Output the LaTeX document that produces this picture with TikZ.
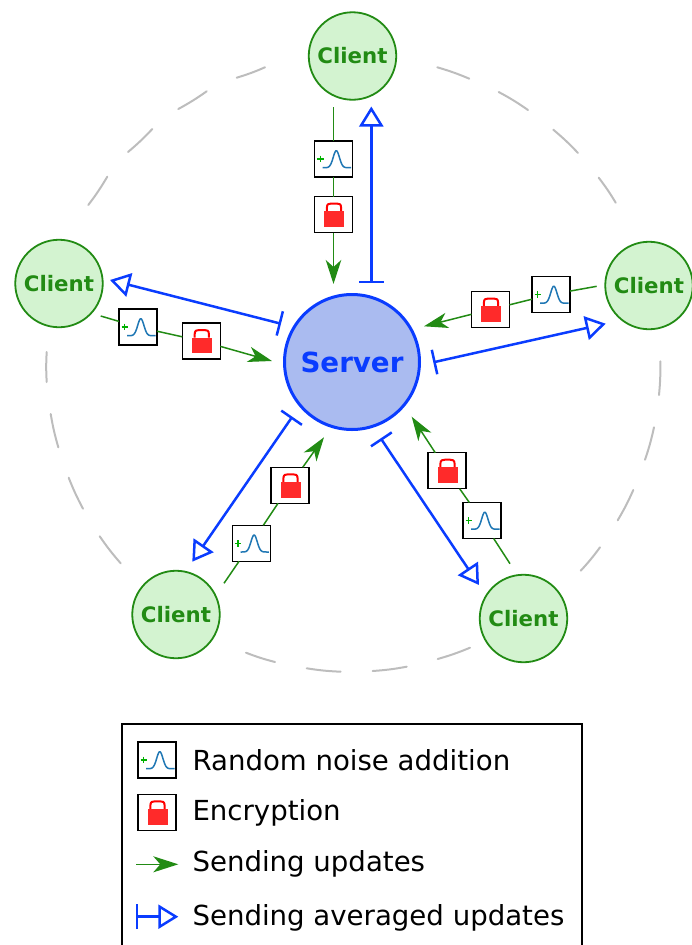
\documentclass[tikz,border=0pt]{standalone}
\usepackage{fontspec}
\setmainfont{DejaVu Sans}
\usetikzlibrary{arrows.meta}
\definecolor{cgreen}{HTML}{228B14}
\definecolor{cfill}{HTML}{D3F3D0}
\definecolor{cblue}{HTML}{0A3CFF}
\definecolor{sfill}{HTML}{AABBF0}
\definecolor{ring}{HTML}{BDBDBD}
\definecolor{lockred}{HTML}{FF2A2A}
\definecolor{noiseblue}{HTML}{1F77B4}
\definecolor{plusgreen}{HTML}{00B000}
\tikzset{
  client/.style={circle,draw=cgreen,fill=cfill,line width=1.8pt,minimum size=87.5pt,inner sep=0pt,text=cgreen,font=\fontsize{21.3}{24}\selectfont\bfseries},
  server/.style={circle,draw=cblue,fill=sfill,line width=3pt,minimum size=135pt,inner sep=0pt,text=cblue,font=\fontsize{27.7}{30}\selectfont\bfseries},
  iconbox/.style={draw=black,fill=white,line width=1.2pt,minimum width=38pt,minimum height=36pt,inner sep=0pt,outer sep=0pt},
  ringdash/.style={draw=ring,line width=2pt,line cap=round},
  sendup/.style={draw=cgreen,line width=1.5pt},
  sendtip/.style={sendup,-{Stealth[length=24pt,width=15.5pt,inset=7pt,fill=cgreen]}},
  sendavg/.style={draw=cblue,line width=2.5pt,{Bar[width=25pt]}-{Triangle[open,length=20pt,width=24pt,fill=white]}},
  legendtext/.style={anchor=base west,inner sep=0pt,font=\fontsize{27.6}{30}\selectfont}
}
\newcommand{\noisebox}[3]{%
  \node[iconbox] (#1) at (#2,#3) {};
  \begin{scope}[shift={(#1)}]
    \draw[plusgreen,line width=1.3pt] (-16.4,0)--(-9.9,0) (-13.2,-3.3)--(-13.2,3.3);
    \draw[noiseblue,line width=1.5pt,line join=round] plot[domain=-13.6:14.7,samples=50] ({2.8+\x},{8.7-17*exp(-pow(\x/4.4,2))});
  \end{scope}}
\newcommand{\lockbox}[3]{%
  \node[iconbox] (#1) at (#2,#3) {};
  \begin{scope}[shift={(#1)}]
    \draw[red,line width=2pt] (-6.6,-3.5)--(-6.6,-7) .. controls (-6.6,-10.6) and (-4.5,-11) .. (-2,-11) -- (3,-11) .. controls (5.5,-11) and (7.6,-10.6) .. (7.6,-7) -- (7.6,-3.5);
    \fill[lockred] (-9.5,-3.5) rectangle (10.5,12.2);
  \end{scope}}
\begin{document}
\begin{tikzpicture}[x=1pt,y=-1pt]
\useasboundingbox (0,0) rectangle (691,945);
% ring
\foreach \ax/\ay/\bx/\by in {
  265/67.3/236.7/77.7, 206.7/91.3/178.3/109, 152.3/129/128/152, 107.3/176.7/88.3/205,
  46.7/382/46.7/352,
  437.3/67.3/469.3/78.7, 498.7/92/528/110, 553.3/129.7/578/153, 598.7/177.7/615.7/202.7,
  660.3/361.3/659/395, 654/427.3/645/459.7, 633.3/490/617.7/520.3, 600/547.3/580.7/570.7,
  470/647.7/437.7/659, 406.7/666.7/372.7/671, 340.7/671.7/306.7/668.3, 275/662/246/652.7,
  120.7/563.3/99.7/536.3, 83/508.7/68.7/477.7, 58.3/447.3/50.7/414}
  \draw[ringdash] (\ax,\ay) to[bend left=3.2] (\bx,\by);
% nodes
\node[server] (srv) at (352,362) {Server};
\node[client] (c1) at (352.5,56) {Client};
\node[client] (c2) at (59,283.5) {Client};
\node[client] (c3) at (649,285.5) {Client};
\node[client] (c4) at (176,614.5) {Client};
\node[client] (c5) at (523.5,618.5) {Client};
% icons
\noisebox{n1}{333.5}{159}\lockbox{l1}{333.5}{214.5}
\noisebox{n2}{138}{327}\lockbox{l2}{201.3}{341}
\noisebox{n3}{551}{294.5}\lockbox{l3}{490.5}{309.5}
\noisebox{n4}{251.3}{543.3}\lockbox{l4}{290}{485.3}
\noisebox{n5}{482}{520.5}\lockbox{l5}{447}{470.7}
% free ends of the green connectors
\coordinate (gs1) at (333.5,107); \coordinate (ge1) at (333.5,284);
\coordinate (gs2) at (100.7,316); \coordinate (ge2) at (272,361);
\coordinate (gs3) at (596.7,286.3); \coordinate (ge3) at (424,326.3);
\coordinate (gs4) at (224,583.3); \coordinate (ge4) at (324,437.3);
\coordinate (gs5) at (510,563.7); \coordinate (ge5) at (411.7,416.7);
\foreach \i in {1,...,5}{
  \draw[sendup] (gs\i) -- (n\i);
  \draw[sendup] (n\i) -- (l\i);
  \draw[sendtip] (l\i) -- (ge\i);
}
% blue connectors
\coordinate (bs1) at (371.3,283); \coordinate (be1) at (371.3,106.5);
\coordinate (bs2) at (281,323.7); \coordinate (be2) at (110,280);
\coordinate (bs3) at (433.3,362.3); \coordinate (be3) at (605.7,323.7);
\coordinate (bs4) at (292.3,416.7); \coordinate (be4) at (192.3,561.7);
\coordinate (bs5) at (380.7,438.3); \coordinate (be5) at (479,585);
\foreach \i in {1,...,5}
  \draw[sendavg] (bs\i) -- (be\i);
% legend
\draw[black,line width=2pt] (122,945) -- (122,724) -- (582,724) -- (582,945);
\noisebox{ln}{157}{760}
\lockbox{ll}{157}{812.3}
\coordinate (lg1) at (136,864.3); \coordinate (lg2) at (178.3,864.3);
\draw[sendup,-{Stealth[length=25pt,width=16pt,inset=7pt,fill=cgreen]}] (lg1) -- (lg2);
\coordinate (lb1) at (135.7,916.7); \coordinate (lb2) at (178.3,916.7);
\draw[sendavg] (lb1) -- (lb2);
\node[legendtext] (t1) at (192.3,770) {Random noise addition};
\node[legendtext] (t2) at (192.3,820) {Encryption};
\node[legendtext] (t3) at (192.3,871.7) {Sending updates};
\node[legendtext] (t4) at (192.3,925) {Sending averaged updates};
\end{tikzpicture}
\end{document}
